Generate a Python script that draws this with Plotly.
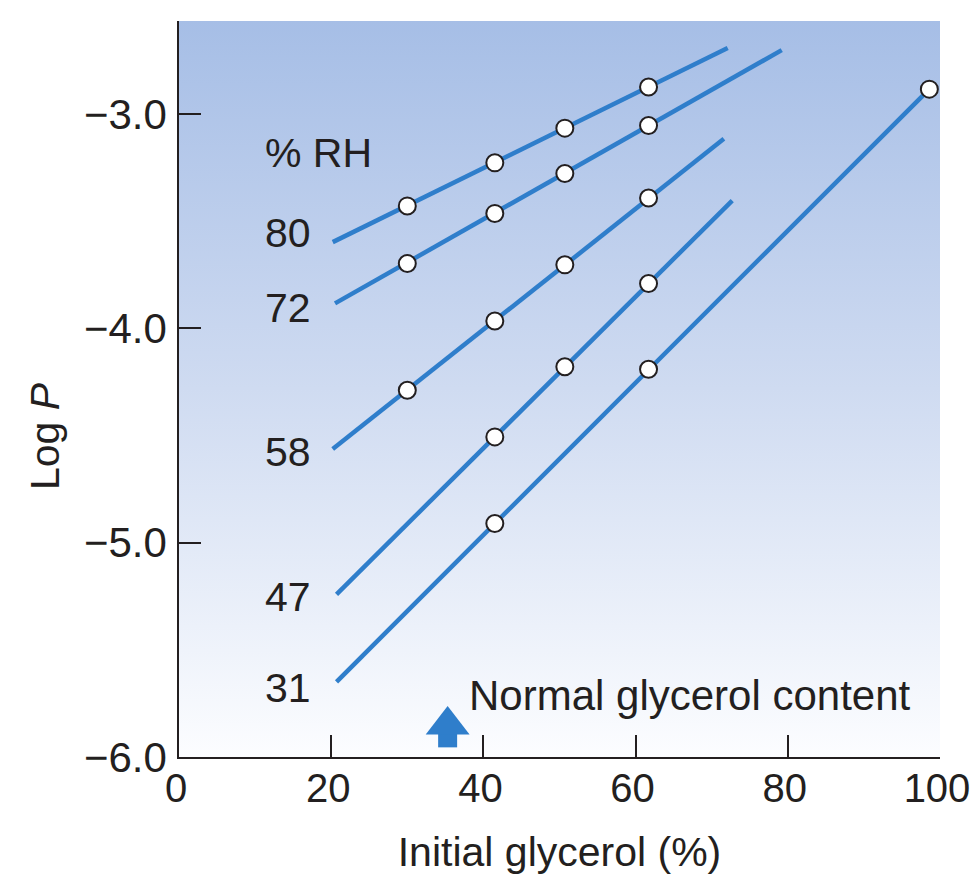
import plotly.graph_objects as go

# ---------------- data ----------------
rh_labels = ["80", "72", "58", "47", "31"]
rh_label_y = [-3.555, -3.905, -4.577, -5.253, -5.677]

# fitted line extents (initial glycerol %, log P)
line_x_start = [20.2, 20.5, 20.2, 20.7, 20.7]
line_y_start = [-3.597, -3.883, -4.563, -5.241, -5.649]
line_x_end = [72.1, 79.2, 71.6, 72.7, 98.6]
line_y_end = [-2.691, -2.701, -3.115, -3.403, -2.883]

# measured points
pts_x_80 = [30.0, 41.5, 50.7, 61.7]
pts_y_80 = [-3.428, -3.227, -3.065, -2.873]
pts_x_72 = [30.0, 41.5, 50.7, 61.7]
pts_y_72 = [-3.697, -3.463, -3.277, -3.053]
pts_x_58 = [30.0, 41.5, 50.7, 61.7]
pts_y_58 = [-4.288, -3.965, -3.703, -3.391]
pts_x_47 = [41.5, 50.7, 61.7]
pts_y_47 = [-4.506, -4.179, -3.790]
pts_x_31 = [41.5, 61.7, 98.6]
pts_y_31 = [-4.910, -4.190, -2.883]

x_ticks = [0, 20, 40, 60, 80, 100]
y_ticks = [-6.0, -5.0, -4.0, -3.0]

normal_glycerol_x = 35.3

# ---------------- style ----------------
FONT = "Liberation Sans, Arial, Helvetica, sans-serif"
INK = "#231f20"
BLUE = "#2f7ecb"
FS = 41
X_RANGE = [0, 100]
Y_RANGE = [-6.0, -2.565]

fig = go.Figure()

# gradient background
fig.add_trace(go.Scatter(
    x=[X_RANGE[0], X_RANGE[1], X_RANGE[1], X_RANGE[0], X_RANGE[0]],
    y=[Y_RANGE[0], Y_RANGE[0], Y_RANGE[1], Y_RANGE[1], Y_RANGE[0]],
    mode="none", fill="toself",
    fillgradient=dict(type="vertical",
                      colorscale=[[0, "#fcfdff"], [0.5, "#cfdbf1"], [1, "#a6bee6"]],
                      start=Y_RANGE[0], stop=Y_RANGE[1]),
    hoverinfo="skip", showlegend=False,
))

# fitted lines
for xs, ys, xe, ye in zip(line_x_start, line_y_start, line_x_end, line_y_end):
    fig.add_trace(go.Scatter(x=[xs, xe], y=[ys, ye], mode="lines",
                             line=dict(color=BLUE, width=4.5),
                             showlegend=False, hoverinfo="skip"))

# measured points
for px, py in [(pts_x_80, pts_y_80), (pts_x_72, pts_y_72), (pts_x_58, pts_y_58),
               (pts_x_47, pts_y_47), (pts_x_31, pts_y_31)]:
    fig.add_trace(go.Scatter(x=px, y=py, mode="markers",
                             marker=dict(symbol="circle", size=17, color="white",
                                         line=dict(color=INK, width=2)),
                             cliponaxis=False, showlegend=False))

# normal glycerol arrow
fig.add_trace(go.Scatter(x=[normal_glycerol_x, normal_glycerol_x], y=[-5.886, -5.955],
                         mode="lines", line=dict(color=BLUE, width=19),
                         showlegend=False, hoverinfo="skip"))
fig.add_trace(go.Scatter(x=[normal_glycerol_x], y=[-5.851], mode="markers",
                         marker=dict(symbol="triangle-up", size=38, color=BLUE,
                                     line=dict(width=0)),
                         showlegend=False, hoverinfo="skip"))

annotations = []
# RH labels
for lab, ly in zip(rh_labels, rh_label_y):
    annotations.append(dict(x=11.0, y=ly, xref="x", yref="y", text=lab,
                            showarrow=False, xanchor="left", yanchor="middle",
                            font=dict(size=FS, color=INK, family=FONT)))
annotations.append(dict(x=11.0, y=-3.182, xref="x", yref="y", text="% RH",
                        showarrow=False, xanchor="left", yanchor="middle",
                        font=dict(size=FS, color=INK, family=FONT)))
annotations.append(dict(x=37.8, y=-5.715, xref="x", yref="y",
                        text="Normal glycerol content",
                        showarrow=False, xanchor="left", yanchor="middle",
                        font=dict(size=42, color=INK, family=FONT)))

W, H = 972, 875
ML, MR, MT, MB = 179, 32, 21, 118
pw, ph = W - ML - MR, H - MT - MB
# y axis title
annotations.append(dict(x=(45 - ML) / pw, y=(H - MB - 436) / ph,
                        xref="paper", yref="paper", text="Log <i>P</i>",
                        showarrow=False, textangle=-90,
                        xanchor="center", yanchor="middle",
                        font=dict(size=FS, color=INK, family=FONT)))

fig.update_layout(
    width=W, height=H, autosize=False,
    margin=dict(l=ML, r=MR, t=MT, b=MB, pad=0, autoexpand=False),
    paper_bgcolor="white", plot_bgcolor="white",
    font=dict(family=FONT, size=FS, color=INK),
    annotations=annotations,
    showlegend=False,
)
fig.update_xaxes(range=X_RANGE, tickvals=x_ticks, ticks="inside", ticklen=22,
                 tickwidth=1.5, tickcolor=INK, showline=True, linecolor=INK,
                 linewidth=1.5, showgrid=False, zeroline=False, automargin=False,
                 tickfont=dict(size=40, color=INK, family=FONT),
                 ticklabelstandoff=-5, ticklabelshift=-3, ticklabeloverflow="allow",
                 title=dict(text="Initial glycerol (%)", standoff=31,
                            font=dict(size=FS, color=INK, family=FONT)))
fig.update_yaxes(range=Y_RANGE, tickvals=y_ticks, tickformat=".1f", ticks="inside",
                 ticklen=22, tickwidth=1.5, tickcolor=INK, showline=True,
                 linecolor=INK, linewidth=1.5, showgrid=False, zeroline=False,
                 automargin=False,
                 tickfont=dict(size=42, color=INK, family=FONT),
                 ticklabelstandoff=2)

fig.write_html("out.html", config={"displayModeBar": False},
               post_script="document.body.style.margin='0';document.body.style.overflow='hidden';")
